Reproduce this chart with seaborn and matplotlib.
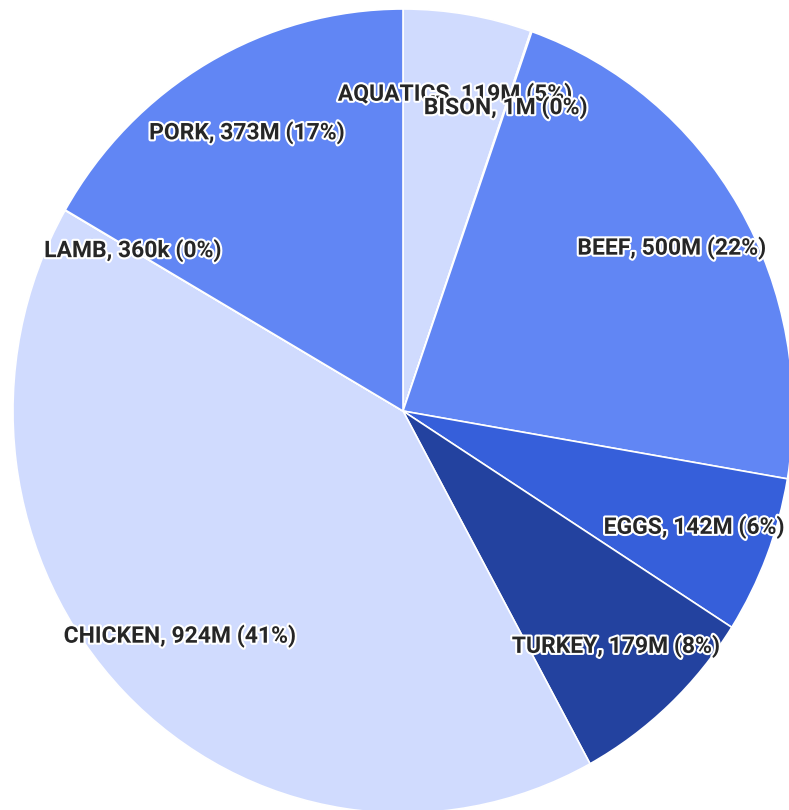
import matplotlib
matplotlib.use("Agg")
import matplotlib.pyplot as plt
import matplotlib.patheffects as pe
import seaborn as sns

categories = ["AQUATICS", "BISON", "BEEF", "EGGS", "TURKEY", "CHICKEN", "LAMB", "PORK"]
values_m = [119, 1, 500, 142, 179, 924, 0.36, 373]  # millions
palette_hex = ["#d0dbfe", "#9fb5f9", "#6186f4", "#365fda", "#23429f"]

sns.set_theme(style="white")
plt.rcParams["font.family"] = ["Roboto", "DejaVu Sans"]

total = sum(values_m)

def fmt(v):
    return f"{v*1000:.0f}k" if v < 1 else f"{v:.0f}M"

labels = [f"{c}, {fmt(v)} ({round(v / total * 100):.0f}%)" for c, v in zip(categories, values_m)]
colors = [palette_hex[i % len(palette_hex)] for i in range(len(categories))]

fig = plt.figure(figsize=(7.89, 8.10), dpi=100)
ax = fig.add_axes([0, 0, 1, 1])
wedges, texts = ax.pie(
    values_m,
    labels=labels,
    colors=colors,
    startangle=90,
    counterclock=False,
    labeldistance=0.8,
    wedgeprops=dict(edgecolor="white", linewidth=1.2),
    textprops=dict(ha="center", va="center", fontsize=16.5, fontweight="bold", color="#262626"),
)
for t in texts:
    t.set_path_effects([pe.withStroke(linewidth=3, foreground="white")])

ax.set_aspect("auto")
ax.set_xlim(-1.0333, 0.9897)
ax.set_ylim(-0.9925, 1.0224)
ax.axis("off")
fig.savefig("out.png", dpi=100)
